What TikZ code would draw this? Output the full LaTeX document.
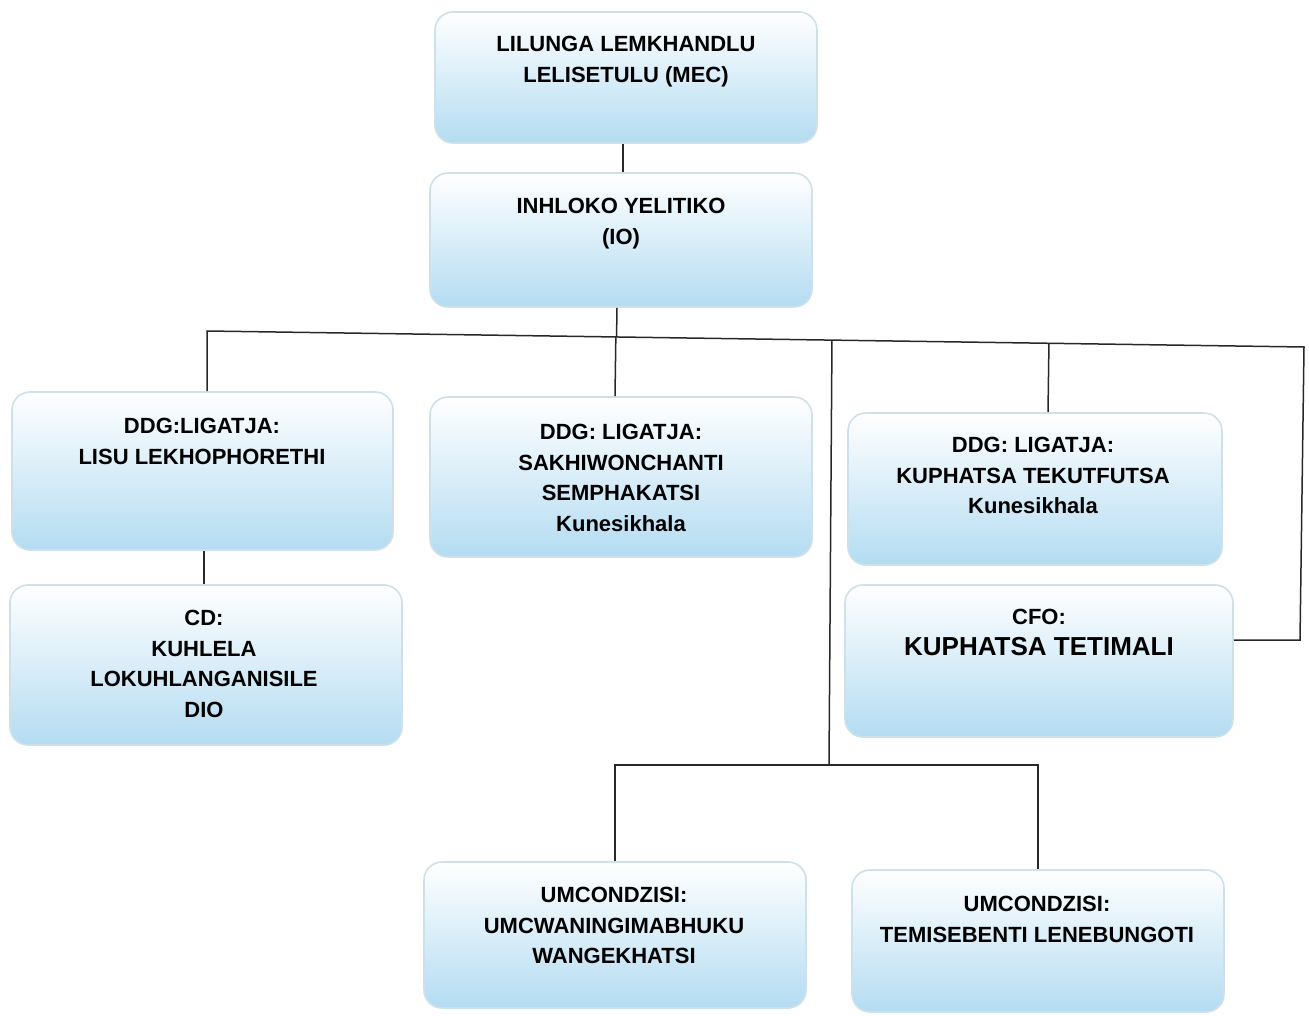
\documentclass[tikz,border=0pt]{standalone}
\usepackage{fontspec}
\setmainfont{Liberation Sans}
\usetikzlibrary{calc}
\definecolor{boxblue}{RGB}{180,220,242}
\definecolor{boxedge}{RGB}{206,224,234}
\definecolor{linecol}{RGB}{40,40,40}
\begin{document}
\begin{tikzpicture}[x=1pt,y=-1pt,
  box/.style={draw=boxedge, line width=1.6pt, rounded corners=18pt,
    top color=white, middle color=white, bottom color=boxblue, inner sep=0pt},
  txt/.style={anchor=north, inner sep=0pt, align=center,
    font=\fontsize{22}{30.5}\selectfont\bfseries},
  conn/.style={draw=linecol, line width=1.5pt}]
\fill[white] (0,0) rectangle (1309,1016);
\useasboundingbox (0,0) rectangle (1309,1016);

% boxes
\node[box, minimum width=382pt, minimum height=131pt] (mec) at (626,77.5) {};
\node[box, minimum width=382pt, minimum height=134pt] (io)  at (621,240) {};
\node[box, minimum width=381pt, minimum height=158pt] (b1)  at (202.5,471) {};
\node[box, minimum width=382pt, minimum height=160pt] (b2)  at (621,477) {};
\node[box, minimum width=374pt, minimum height=152pt] (b3)  at (1035,489) {};
\node[box, minimum width=392pt, minimum height=160pt] (cd)  at (206,665) {};
\node[box, minimum width=388pt, minimum height=152pt] (cfo) at (1039,661) {};
\node[box, minimum width=382pt, minimum height=146pt] (u1)  at (615,935) {};
\node[box, minimum width=372pt, minimum height=142pt] (u2)  at (1038,941) {};

% texts
\node[txt] (mect) at (626,36) {LILUNGA LEMKHANDLU\\LELISETULU (MEC)};
\node[txt] (iot)  at (621,198) {INHLOKO YELITIKO\\(IO)};
\node[txt] (b1t)  at (202,418) {DDG:LIGATJA:\\LISU LEKHOPHORETHI};
\node[txt] (b2t)  at (621,424) {DDG: LIGATJA:\\SAKHIWONCHANTI\\SEMPHAKATSI\\Kunesikhala};
\node[txt] (b3t)  at (1033,437) {DDG: LIGATJA:\\KUPHATSA TEKUTFUTSA\\Kunesikhala};
\node[txt] (cdt)  at (204,610) {CD:\\KUHLELA\\LOKUHLANGANISILE\\DIO};
\node[txt] (cfot) at (1039,609) {CFO:\\{\fontsize{26}{32}\selectfont KUPHATSA TETIMALI}};
\node[txt] (u1t)  at (614,887) {UMCONDZISI:\\UMCWANINGIMABHUKU\\WANGEKHATSI};
\node[txt] (u2t)  at (1037,896) {UMCONDZISI:\\TEMISEBENTI LENEBUNGOTI};

% connectors
\coordinate (busL) at (207,331);
\coordinate (busR) at (1304,347);
\coordinate (cfoR) at (1300,640);
\coordinate (b3top) at ([xshift=13pt]b3.north);
\coordinate (midref) at (832,341);
\coordinate (jn) at (829,765);

\draw[conn] ([xshift=-3pt]mec.south) -- ([xshift=2pt]io.north);
\draw[conn] ([xshift=-4pt]io.south) -- ($(busL)!([xshift=-4pt]io.south)!(busR)$);
\draw[conn] (busL |- b1.north) -- (busL) -- (busR) -- (cfoR) -- (cfoR -| cfo.east);
\draw[conn] ($(busL)!([xshift=-6pt]b2.north)!(busR)$) -- ([xshift=-6pt]b2.north);
\draw[conn] ($(busL)!(b3top)!(busR)$) -- (b3top);
\draw[conn] ($(busL)!(midref)!(busR)$) -- (jn);
\draw[conn] ([xshift=1.5pt]b1.south) -- ([xshift=-2pt]cd.north);
\draw[conn] (u1.north) -- (u1.north |- jn) -- (u2.north |- jn) -- (u2.north);
\end{tikzpicture}
\end{document}
